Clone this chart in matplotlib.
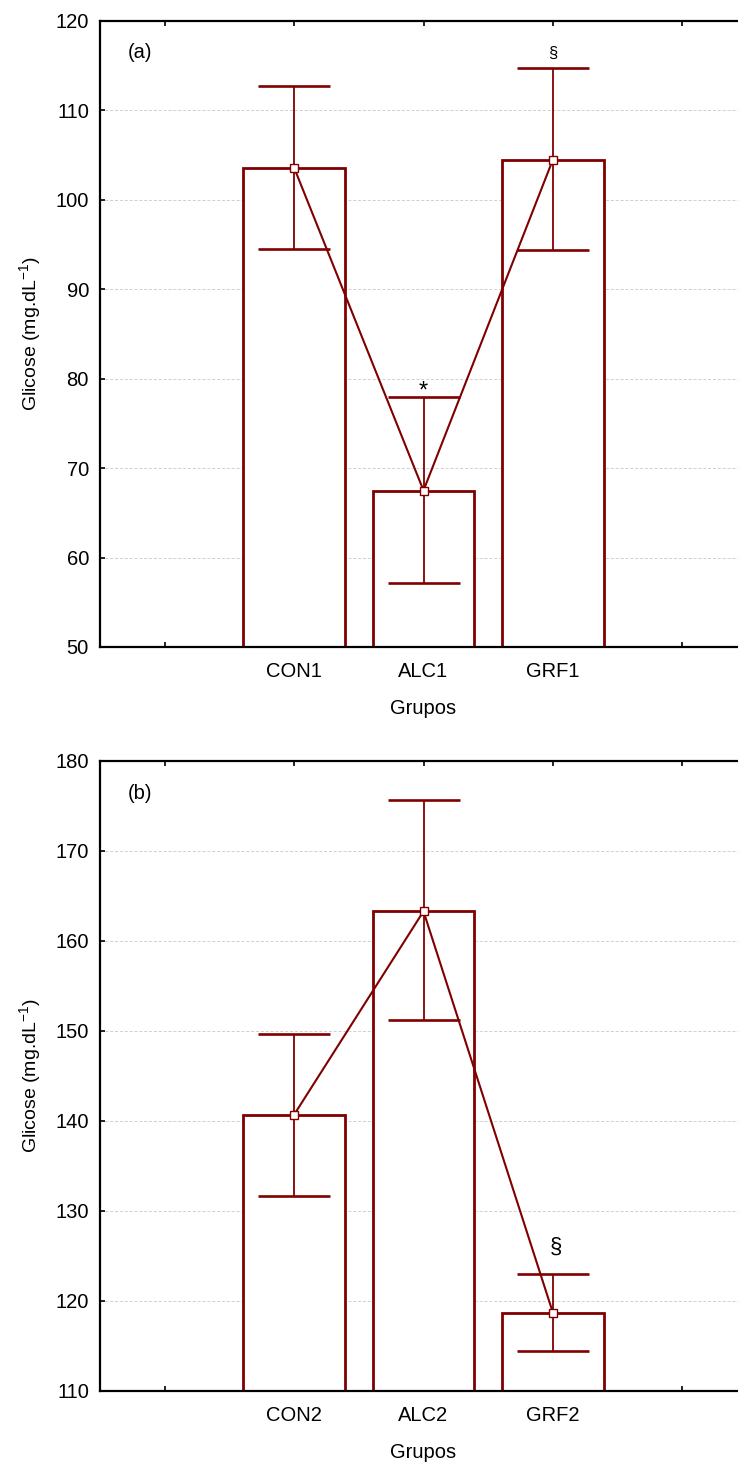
import numpy as np
import matplotlib
matplotlib.use("Agg")
import matplotlib.pyplot as plt

plt.rcParams['font.family'] = ['Liberation Sans', 'DejaVu Sans']
plt.rcParams['mathtext.fontset'] = 'custom'
plt.rcParams['mathtext.rm'] = 'Liberation Sans'

# glicose values (mean, lower and upper whisker)
groups_a = ['CON1', 'ALC1', 'GRF1']
means_a = [103.6, 67.5, 104.5]
lower_a = [94.5, 57.2, 94.4]
upper_a = [112.7, 77.9, 114.8]

groups_b = ['CON2', 'ALC2', 'GRF2']
means_b = [140.7, 163.3, 118.7]
lower_b = [131.7, 151.2, 114.5]
upper_b = [149.7, 175.7, 123.0]

red = '#800000'

fig = plt.figure(figsize=(7.38, 14.7), dpi=100)
ax1 = fig.add_axes([100/738, 1-647/1470, 647/738, 626/1470])
ax2 = fig.add_axes([100/738, 1-1391/1470, 647/738, 630/1470])


def panel(ax, groups, means, lower, upper, ymin, ymax, tag):
    x = np.arange(1, len(groups) + 1)
    means = np.array(means)
    yerr = [means - np.array(lower), np.array(upper) - means]
    ax.bar(x, means - ymin, bottom=ymin, width=0.785, color='white',
           edgecolor=red, linewidth=2.0, zorder=2)
    ax.plot(x, means, color=red, lw=1.5, zorder=3)
    ax.errorbar(x, means, yerr=yerr, fmt='none', ecolor=red, elinewidth=1.3,
                capsize=26, capthick=1.9, zorder=4)
    ax.plot(x, means, 's', ms=6, mfc='white', mec=red, mew=1, zorder=5)
    ax.set_xlim(-0.5, 4.5)
    ax.set_ylim(ymin, ymax)
    ax.set_yticks(np.arange(ymin, ymax + 1, 10))
    ax.set_xticks(range(5))
    ax.set_xticklabels([''] + groups + [''])
    ax.yaxis.grid(True, ls=(0, (3, 2)), color='#cfcfcf', lw=0.7)
    ax.set_axisbelow(True)
    ax.tick_params(direction='in', top=True, right=False, length=3.5, width=1.2,
                   labelsize=14.5, pad=8)
    ax.tick_params(axis='x', pad=11)
    for s in ax.spines.values():
        s.set_linewidth(1.6)
    ax.spines['right'].set_visible(False)
    ax.set_xlabel('Grupos', fontsize=14.5, labelpad=13)
    ax.set_ylabel('Glicose (mg.dL$^{\\mathregular{-1}}$)', fontsize=14, labelpad=8)
    ax.text(0.043, 0.949, tag, transform=ax.transAxes, fontsize=14.5, va='center')


panel(ax1, groups_a, means_a, lower_a, upper_a, 50, 120, '(a)')
panel(ax2, groups_b, means_b, lower_b, upper_b, 110, 180, '(b)')

ax1.text(2, 78.6, '*', ha='center', va='center', fontsize=17)
ax1.text(3, 116.4, '§', ha='center', va='center', fontsize=12)
ax2.text(3.02, 126.0, '§', ha='center', va='center', fontsize=16)

fig.savefig('out.png', dpi=100)
